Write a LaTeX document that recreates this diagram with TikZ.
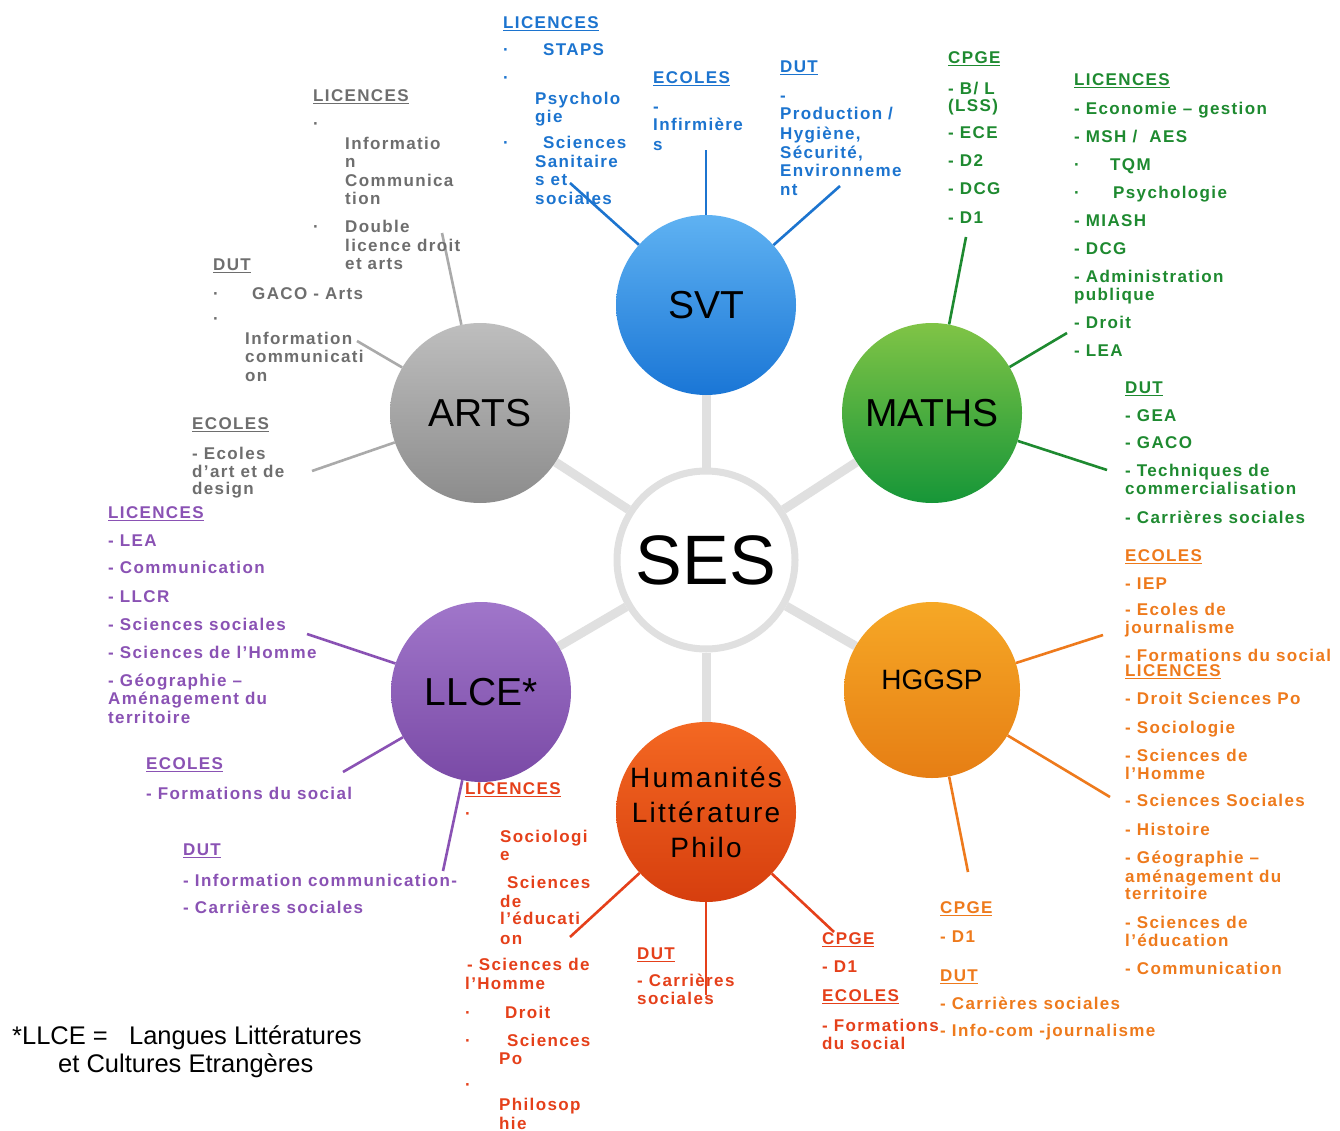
\documentclass[tikz,border=0pt]{standalone}
\usepackage{fontspec}
\setmainfont{Liberation Sans}
\newfontfamily\txtfont[LetterSpace=8]{Liberation Sans}
\newfontfamily\humfont[LetterSpace=8]{Liberation Sans}
\newcommand\hd[1]{\rule{0pt}{13pt}\setbox0\hbox{#1}\rlap{\rule[-3pt]{\wd0}{1.6pt}}\box0}
\definecolor{cgrey}{HTML}{6E6E6E}
\definecolor{cblue}{HTML}{1C74CF}
\definecolor{cgreen}{HTML}{1E8A30}
\definecolor{corange}{HTML}{EE7A1C}
\definecolor{cred}{HTML}{E5401A}
\definecolor{cpurple}{HTML}{8A52B4}
\definecolor{lgrey}{HTML}{AAAAAA}
\definecolor{spk}{HTML}{E0E0E0}
\pgfdeclarelayer{bgzero}
\pgfdeclarelayer{bgone}
\pgfsetlayers{bgzero,bgone,main}
\begin{document}
\begin{tikzpicture}[x=1pt,y=-1pt,
  subj/.style={circle, minimum size=180pt, inner sep=0pt, text=black, font=\fontsize{39}{44}\selectfont},
  txt/.style={anchor=north west, inner sep=0pt, align=left, font=\txtfont\bfseries\fontsize{17}{18.5}\selectfont},
  spoke/.style={draw=spk, line width=9pt},
  conn/.style={line width=2.6pt}]
\useasboundingbox (0,0) rectangle (1340,1131);
\begin{pgfonlayer}{bgzero}
\fill[white] (0,0) rectangle (1340,1131);
\end{pgfonlayer}

% central and subject circles
\node[circle, minimum size=178pt, inner sep=0pt, draw=spk, line width=7pt, fill=white, font=\fontsize{70}{80}\selectfont] (ses) at (706,560) {SES};
\node[subj, top color={rgb,255:red,95;green,178;blue,242}, bottom color={rgb,255:red,26;green,118;blue,214}] (svt) at (706,305) {SVT};
\node[subj, top color={rgb,255:red,190;green,190;blue,190}, bottom color={rgb,255:red,140;green,140;blue,140}] (arts) at (480,413) {ARTS};
\node[subj, top color={rgb,255:red,128;green,196;blue,70}, bottom color={rgb,255:red,22;green,150;blue,56}] (maths) at (932,413) {MATHS};
\node[subj, minimum size=176pt, top color={rgb,255:red,246;green,168;blue,38}, bottom color={rgb,255:red,230;green,126;blue,20}, font=\fontsize{28}{32}\selectfont] (hggsp) at (932,690) {\raisebox{20pt}{HGGSP}};
\node[subj, top color={rgb,255:red,160;green,118;blue,202}, bottom color={rgb,255:red,122;green,74;blue,166}] (llce) at (481,692) {LLCE*};
\node[subj, top color={rgb,255:red,244;green,104;blue,34}, bottom color={rgb,255:red,214;green,62;blue,14}, align=center, font=\humfont\fontsize{28}{35}\selectfont] (hum) at (706,812) {Humanités\\Littérature\\Philo};

% spokes
\begin{pgfonlayer}{bgone}
\draw[spoke] (ses) -- (svt);
\draw[spoke] (ses) -- (arts);
\draw[spoke] (ses) -- (maths);
\draw[spoke] (ses) -- (hggsp);
\draw[spoke] (ses) -- (llce);
\draw[spoke] (ses) -- (hum);
\end{pgfonlayer}

% free ends of connectors
\coordinate (a1) at (442,233);
\coordinate (a2) at (357,341);
\coordinate (a3) at (312,471);
\coordinate (s1) at (570,183);
\coordinate (s2) at (706,150);
\coordinate (s3) at (840,186);
\coordinate (m1) at (966,237);
\coordinate (m2) at (1067,333);
\coordinate (m3) at (1107,470);
\coordinate (g1) at (1103,635);
\coordinate (g2) at (1110,797);
\coordinate (g3) at (968,872);
\coordinate (l1) at (307,634);
\coordinate (l2) at (343,772);
\coordinate (l3) at (443,871);
\coordinate (u1) at (570,937);
\coordinate (u2) at (706,995);
\coordinate (u3) at (834,932);

\draw[conn, draw=lgrey] (arts) -- (a1);
\draw[conn, draw=lgrey] (arts) -- (a2);
\draw[conn, draw=lgrey] (arts) -- (a3);
\draw[conn, draw=cblue] (svt) -- (s1);
\draw[conn, draw=cblue] (svt) -- (s2);
\draw[conn, draw=cblue] (svt) -- (s3);
\draw[conn, draw=cgreen] (maths) -- (m1);
\draw[conn, draw=cgreen] (maths) -- (m2);
\draw[conn, draw=cgreen] (maths) -- (m3);
\draw[conn, draw=corange] (hggsp) -- (g1);
\draw[conn, draw=corange] (hggsp) -- (g2);
\draw[conn, draw=corange] (hggsp) -- (g3);
\draw[conn, draw=cpurple] (llce) -- (l1);
\draw[conn, draw=cpurple] (llce) -- (l2);
\draw[conn, draw=cpurple] (llce) -- (l3);
\draw[conn, draw=cred] (hum) -- (u1);
\draw[conn, draw=cred] (hum) -- (u2);
\draw[conn, draw=cred] (hum) -- (u3);

% ARTS texts
\node[txt, text=cgrey] (artsLic) at (313,88) {\hd{LICENCES}\\[9.5pt]
·\\[1.5pt]
\hspace*{32pt}Informatio\\
\hspace*{32pt}n\\
\hspace*{32pt}Communica\\
\hspace*{32pt}tion\\[9.5pt]
\makebox[32pt][l]{·}Double\\
\hspace*{32pt}licence droit\\
\hspace*{32pt}et arts};
\node[txt, text=cgrey] (artsDut) at (213,257) {\hd{DUT}\\[10.5pt]
\makebox[39pt][l]{·}GACO - Arts\\[6.5pt]
·\\[1.5pt]
\hspace*{32pt}Information\\
\hspace*{32pt}communicati\\
\hspace*{32pt}on};
\node[txt, text=cgrey] (artsEco) at (192,416) {\hd{ECOLES}\\[11.5pt]
- Ecoles\\
d’art et de\\[-1.5pt]
design};

% SVT texts
\node[txt, text=cblue] (svtLic) at (503,15) {\hd{LICENCES}\\[8.5pt]
\makebox[40pt][l]{·}STAPS\\[9.5pt]
·\\[2.5pt]
\hspace*{32pt}Psycholo\\
\hspace*{32pt}gie\\[7.5pt]
\makebox[40pt][l]{·}Sciences\\
\hspace*{32pt}Sanitaire\\
\hspace*{32pt}s et\\
\hspace*{32pt}sociales};
\node[txt, text=cblue] (svtEco) at (653,70) {\hd{ECOLES}\\[10.5pt]
-\\
Infirmière\\[1.5pt]
s};
\node[txt, text=cblue] (svtDut) at (780,59) {\hd{DUT}\\[10.5pt]
-\\
Production /\\[1.5pt]
Hygiène,\\
Sécurité,\\
Environneme\\
nt};

% MATHS texts
\node[txt, text=cgreen] (mathCpge) at (948,50) {\hd{CPGE}\\[12.5pt]
- B/ L\\[-1.5pt]
(LSS)\\[8.5pt]
- ECE\\[9.5pt]
- D2\\[9.5pt]
- DCG\\[10.5pt]
- D1};
\node[txt, text=cgreen] (mathLic) at (1074,72) {\hd{LICENCES}\\[10.5pt]
- Economie – gestion\\[9.5pt]
- MSH /\ \ AES\\[9.5pt]
\makebox[36pt][l]{·}TQM\\[9.5pt]
\makebox[39pt][l]{·}Psychologie\\[9.5pt]
- MIASH\\[9.5pt]
- DCG\\[9.5pt]
- Administration\\
publique\\[9.5pt]
- Droit\\[9.5pt]
- LEA};
\node[txt, text=cgreen] (mathDut) at (1125,380) {\hd{DUT}\\[9.5pt]
- GEA\\[8.5pt]
- GACO\\[9.5pt]
- Techniques de\\
commercialisation\\[10.5pt]
- Carrières sociales};

% HGGSP texts
\node[txt, text=corange] (hgEco) at (1125,548) {\hd{ECOLES}\\[9.5pt]
- IEP\\[7.5pt]
- Ecoles de\\
journalisme\\[9.5pt]
- Formations du social};
\node[txt, text=corange] (hgLic) at (1125,663) {\hd{LICENCES}\\[9.5pt]
- Droit Sciences Po\\[10.5pt]
- Sociologie\\[9.5pt]
- Sciences de\\
l’Homme\\[8.5pt]
- Sciences Sociales\\[10.5pt]
- Histoire\\[9.5pt]
- Géographie –\\
aménagement du\\[-1.5pt]
territoire\\[10.5pt]
- Sciences de\\
l’éducation\\[9.5pt]
- Communication};
\node[txt, text=corange] (hgCpge) at (940,900) {\hd{CPGE}\\[10.5pt]
- D1\\[20.5pt]
\hd{DUT}\\[9.5pt]
- Carrières sociales\\[8.5pt]
- Info-com -journalisme};

% LLCE texts
\node[txt, text=cpurple] (llLic) at (108,505) {\hd{LICENCES}\\[9.5pt]
- LEA\\[8.5pt]
- Communication\\[10.5pt]
- LLCR\\[9.5pt]
- Sciences sociales\\[9.5pt]
- Sciences de l’Homme\\[9.5pt]
- Géographie –\\
Aménagement du\\
territoire};
\node[txt, text=cpurple] (llEco) at (146,756) {\hd{ECOLES}\\[11.5pt]
- Formations du social};
\node[txt, text=cpurple] (llDut) at (183,842) {\hd{DUT}\\[12.5pt]
- Information communication-\\[8.5pt]
- Carrières sociales};

% Humanites texts
\node[txt, text=cred] (huLic) at (465,781) {\hd{LICENCES}\\[6.5pt]
·\\[4.5pt]
\hspace*{35pt}Sociologi\\
\hspace*{35pt}e\\[9.5pt]
\hspace*{42pt}Sciences\\
\hspace*{35pt}de\\[-1.5pt]
\hspace*{35pt}l’éducati\\[1.5pt]
\hspace*{35pt}on\\[7.5pt]
\hspace*{2pt}- Sciences de\\[0.5pt]
l’Homme\\[10.5pt]
\makebox[40pt][l]{·}Droit\\[9.5pt]
\makebox[42pt][l]{·}Sciences\\
\hspace*{34pt}Po\\[7.5pt]
·\\[1.5pt]
\hspace*{34pt}Philosop\\
\hspace*{34pt}hie};
\node[txt, text=cred] (huDut) at (637,946) {\hd{DUT}\\[8.5pt]
- Carrières\\
sociales};
\node[txt, text=cred] (huCpge) at (822,931) {\hd{CPGE}\\[9.5pt]
- D1\\[10.5pt]
\hd{ECOLES}\\[11.5pt]
- Formations\\
du social};

% footnote
\node[anchor=base west, inner sep=0pt, font=\fontsize{25.5}{28}\selectfont] (note1) at (12,1044) {*LLCE =\ \ \ Langues Littératures};
\node[anchor=base west, inner sep=0pt, font=\fontsize{25.5}{28}\selectfont] (note2) at (58,1072) {et Cultures Etrangères};
\end{tikzpicture}
\end{document}
